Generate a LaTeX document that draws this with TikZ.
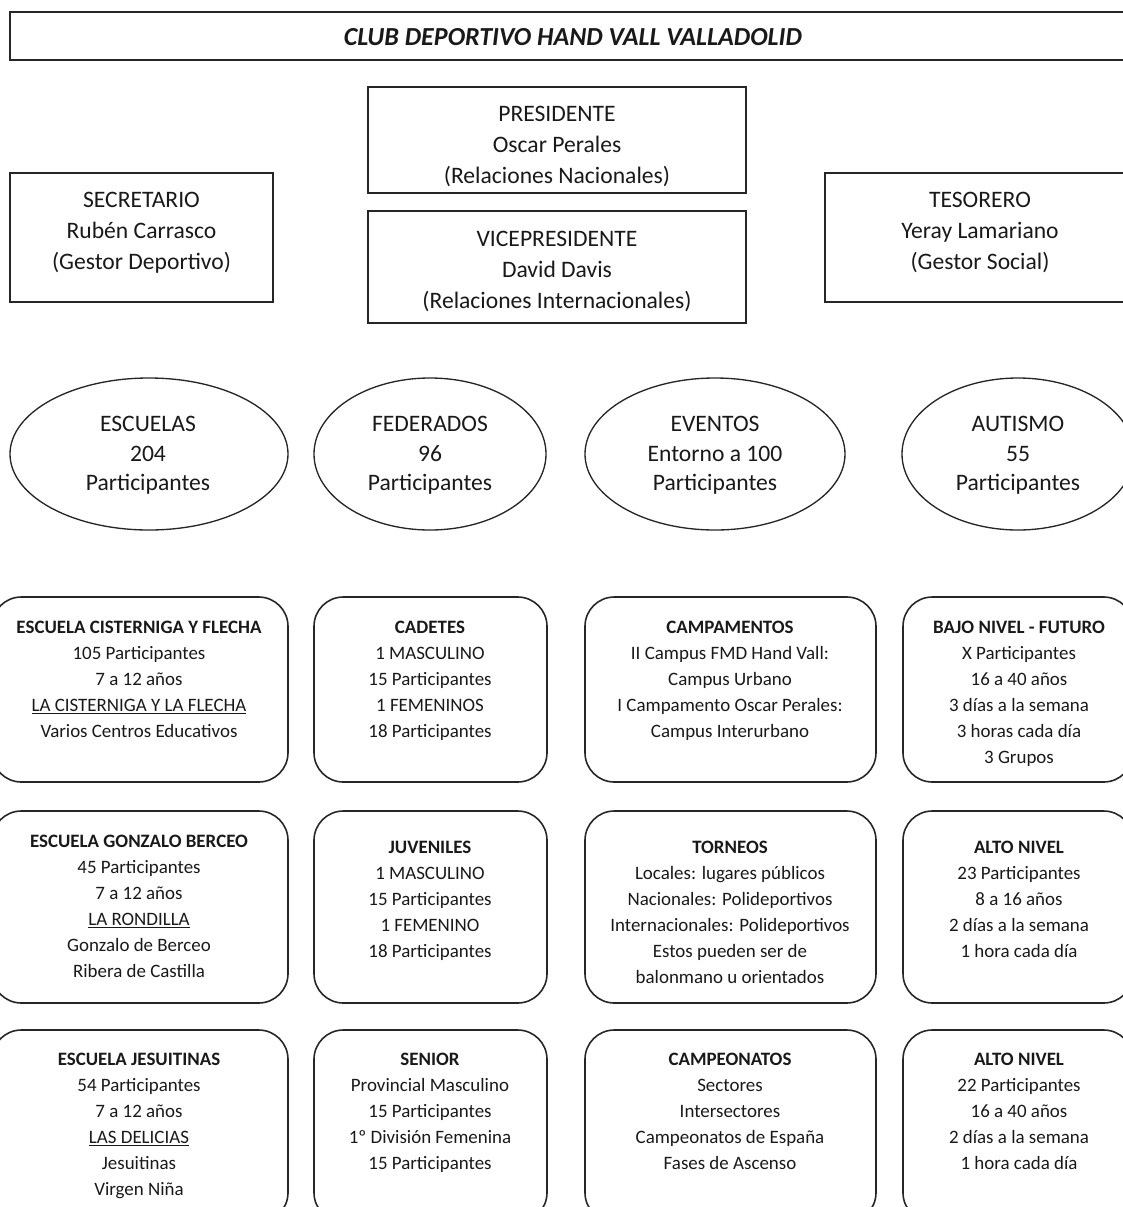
\documentclass[tikz,border=0pt]{standalone}
\usepackage{fontspec}
\setmainfont{Carlito}
\usetikzlibrary{shapes.geometric}
\begin{document}
\begin{tikzpicture}[x=0.75pt,y=-0.75pt,
  frame/.style={draw=black!85, line width=1.2pt, inner sep=0pt},
  sqbox/.style={frame, rectangle},
  rbox/.style={frame, rectangle, rounded corners=22pt},
  oval/.style={frame, ellipse, line width=1pt},
  bigtxt/.style={align=center, inner sep=0pt, text=black!90, font=\fontsize{17.7}{23.25}\selectfont, execute at begin node=\strut, execute at end node=\strut},
  ovtxt/.style={align=center, inner sep=0pt, text=black!90, font=\fontsize{17.7}{22}\selectfont, execute at begin node=\strut, execute at end node=\strut},
  smalltxt/.style={align=center, inner sep=0pt, anchor=north, text=black!90, font=\fontsize{14.2}{19.5}\selectfont, execute at begin node=\strut},
  wA/.style={minimum width=222pt},
  wB/.style={minimum width=174.75pt},
  wC/.style={minimum width=218.25pt},
  wD/.style={minimum width=172.5pt},
  hA/.style={minimum height=138.75pt},
  hB/.style={minimum height=144pt},
]
\useasboundingbox (0,0) rectangle (1123,1207);
\clip (0,0) rectangle (1123,1207);

% title
\node[sqbox, minimum width=840pt, minimum height=36pt] (title) at (570,36) {};
\node[inner sep=0pt, text=black!90, font=\fontsize{19.5}{22}\selectfont\bfseries\itshape] (titletxt) at (573,37) {CLUB DEPORTIVO HAND VALL VALLADOLID};

% board
\node[sqbox, minimum width=283.5pt, minimum height=79.5pt] (pres) at (557,140) {};
\node[bigtxt] (prestxt) at (557,149) {PRESIDENTE\\Oscar Perales\\(Relaciones Nacionales)};
\node[sqbox, minimum width=283.5pt, minimum height=84pt] (vice) at (557,267) {};
\node[bigtxt] (vicetxt) at (557,274) {VICEPRESIDENTE\\David Davis\\(Relaciones Internacionales)};
\node[sqbox, minimum width=197.25pt, minimum height=96.75pt] (sec) at (141.5,237.5) {};
\node[bigtxt] (sectxt) at (141.5,235) {SECRETARIO\\Rubén Carrasco\\(Gestor Deportivo)};
\node[sqbox, minimum width=228.75pt, minimum height=96.75pt] (tes) at (977.5,237.5) {};
\node[bigtxt] (testxt) at (980,235) {TESORERO\\Yeray Lamariano\\(Gestor Social)};

% ellipses
\node[oval, minimum width=208.5pt, minimum height=114pt] (esc) at (149,454) {};
\node[ovtxt] (esctxt) at (148,458) {ESCUELAS\\204\\Participantes};
\node[oval, minimum width=174pt, minimum height=114pt] (fed) at (430,454) {};
\node[ovtxt] (fedtxt) at (430,458) {FEDERADOS\\96\\Participantes};
\node[oval, minimum width=195pt, minimum height=114pt] (eve) at (715,454) {};
\node[ovtxt] (evetxt) at (715,458) {EVENTOS\\Entorno a 100\\Participantes};
\node[oval, minimum width=174pt, minimum height=114pt] (aut) at (1018,454) {};
\node[ovtxt] (auttxt) at (1018,458) {AUTISMO\\55\\Participantes};

% row 1
\node[rbox, wA, hA] (r1a) at (140,689.5) {};
\node[rbox, wB, hA] (r1b) at (430.5,689.5) {};
\node[rbox, wC, hA] (r1c) at (730.5,689.5) {};
\node[rbox, wD, hA] (r1d) at (1018,689.5) {};
\node[smalltxt] (r1atxt) at (139,620.6) {\textbf{ESCUELA CISTERNIGA Y FLECHA}\\105 Participantes\\7 a 12 años\\\underline{LA CISTERNIGA Y LA FLECHA}\\Varios Centros Educativos};
\node[smalltxt] (r1btxt) at (430,620.6) {\textbf{CADETES}\\1 MASCULINO\\15 Participantes\\1 FEMENINOS\\18 Participantes};
\node[smalltxt] (r1ctxt) at (730,620.6) {\textbf{CAMPAMENTOS}\\II Campus FMD Hand Vall:\\Campus Urbano\\I Campamento Oscar Perales:\\Campus Interurbano};
\node[smalltxt] (r1dtxt) at (1019,620.6) {\textbf{BAJO NIVEL - FUTURO}\\X Participantes\\16 a 40 años\\3 días a la semana\\3 horas cada día\\3 Grupos};

% row 2
\node[rbox, wA, hB] (r2a) at (140,907) {};
\node[rbox, wB, hB] (r2b) at (430.5,907) {};
\node[rbox, wC, hB] (r2c) at (730.5,907) {};
\node[rbox, wD, hB] (r2d) at (1018,907) {};
\node[smalltxt] (r2atxt) at (139,834.6) {\textbf{ESCUELA GONZALO BERCEO}\\45 Participantes\\7 a 12 años\\\underline{LA RONDILLA}\\Gonzalo de Berceo\\Ribera de Castilla};
\node[smalltxt] (r2btxt) at (430,840.6) {\textbf{JUVENILES}\\1 MASCULINO\\15 Participantes\\1 FEMENINO\\18 Participantes};
\node[smalltxt] (r2ctxt) at (730,840.6) {\textbf{TORNEOS}\\Locales: lugares públicos\\Nacionales: Polideportivos\\Internacionales: Polideportivos\\Estos pueden ser de\\balonmano u orientados};
\node[smalltxt] (r2dtxt) at (1019,840.6) {\textbf{ALTO NIVEL}\\23 Participantes\\8 a 16 años\\2 días a la semana\\1 hora cada día};

% row 3
\node[rbox, wA, hB] (r3a) at (140,1126) {};
\node[rbox, wB, hB] (r3b) at (430.5,1126) {};
\node[rbox, wC, hB] (r3c) at (730.5,1126) {};
\node[rbox, wD, hB] (r3d) at (1018,1126) {};
\node[smalltxt] (r3atxt) at (139,1052.6) {\textbf{ESCUELA JESUITINAS}\\54 Participantes\\7 a 12 años\\\underline{LAS DELICIAS}\\Jesuitinas\\Virgen Niña};
\node[smalltxt] (r3btxt) at (430,1052.6) {\textbf{SENIOR}\\Provincial Masculino\\15 Participantes\\1º División Femenina\\15 Participantes};
\node[smalltxt] (r3ctxt) at (730,1052.6) {\textbf{CAMPEONATOS}\\Sectores\\Intersectores\\Campeonatos de España\\Fases de Ascenso};
\node[smalltxt] (r3dtxt) at (1019,1052.6) {\textbf{ALTO NIVEL}\\22 Participantes\\16 a 40 años\\2 días a la semana\\1 hora cada día};
\end{tikzpicture}
\end{document}
